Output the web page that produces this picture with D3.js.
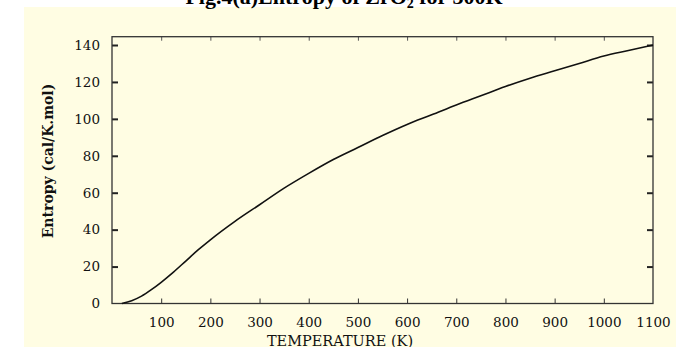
<!DOCTYPE html>
<html>
<head>
<meta charset="utf-8">
<script src="https://cdn.jsdelivr.net/npm/d3@7"></script>
<style>
  body { margin: 0; background: #fff; }
  svg { display: block; }
</style>
</head>
<body>
<div id="chart"></div>
<script>
// entropy (cal/K.mol) vs temperature (K)
const temps = [20, 40, 60, 80, 100, 125, 150, 175, 200, 250, 300, 350, 400, 450, 500,
  550, 600, 650, 700, 750, 800, 850, 900, 950, 1000, 1050, 1100];
const entropy = [0, 1.5, 4, 7.5, 11.5, 17, 23, 29, 34.5, 44.5, 53.5, 62.5, 70.5, 78, 84.5,
  91, 97, 102.2, 107.5, 112.5, 117.5, 122, 126, 130, 134, 137, 140];
const xTicks = [100, 200, 300, 400, 500, 600, 700, 800, 900, 1000, 1100];
const yTicks = [0, 20, 40, 60, 80, 100, 120, 140];

const W = 690, H = 347;
const svg = d3.select("#chart").append("svg")
  .attr("width", W).attr("height", H);

// pale yellow sheet
svg.append("rect")
  .attr("x", 24).attr("y", 7)
  .attr("width", 652).attr("height", H - 7)
  .style("fill", "#fffde3");

// title, cut off at the top of the page
const title = svg.append("text")
  .attr("x", 344).attr("y", 3.5)
  .attr("text-anchor", "middle")
  .style("font-family", "'Liberation Serif', 'Times New Roman', serif")
  .style("font-weight", "bold")
  .style("font-size", "22px")
  .style("fill", "#000");
title.append("tspan").text("Fig.4(a)Entropy of ZrO");
title.append("tspan").attr("dy", 4).style("font-size", "14px").text("2");
title.append("tspan").attr("dy", -4).text(" for 300K");

const x = d3.scaleLinear().domain([0, 1100]).range([112, 653]);
const y = d3.scaleLinear().domain([0, 144.5]).range([303.5, 36.7]);

const tickFont = "'DejaVu Serif', serif";

// bottom axis, ticks inside
const gx = svg.append("g")
  .attr("transform", "translate(0," + y(0) + ")")
  .call(d3.axisBottom(x).tickValues(xTicks).tickFormat(d3.format("d"))
    .tickSizeInner(-5).tickSizeOuter(0).tickPadding(14));
gx.select(".domain").remove();
gx.selectAll("text").style("font-family", tickFont).style("font-size", "13.5px").style("fill", "#111");
gx.selectAll("line").style("stroke", "#333");
// the 1100 tick sits on the frame
gx.selectAll(".tick").filter(d => d === 1100).select("line").remove();

// top ticks
const gt = svg.append("g")
  .attr("transform", "translate(0," + y.range()[1] + ")")
  .call(d3.axisTop(x).tickValues(xTicks.slice(0, -1)).tickSizeInner(-4).tickSizeOuter(0).tickFormat(""));
gt.select(".domain").remove();
gt.selectAll("line").style("stroke", "#555");

// left axis
const gy = svg.append("g")
  .attr("transform", "translate(" + x(0) + ",0)")
  .call(d3.axisLeft(y).tickValues(yTicks).tickSizeInner(-6).tickSizeOuter(0).tickPadding(12));
gy.select(".domain").remove();
gy.selectAll("text").style("font-family", tickFont).style("font-size", "13.5px").style("fill", "#111");
gy.selectAll("line").style("stroke", "#222").style("stroke-width", 2);
gy.selectAll(".tick").filter(d => d === 0).select("line").remove();

// right ticks
const gr = svg.append("g")
  .attr("transform", "translate(" + x(1100) + ",0)")
  .call(d3.axisRight(y).tickValues(yTicks.slice(1)).tickSizeInner(-6).tickSizeOuter(0).tickFormat(""));
gr.select(".domain").remove();
gr.selectAll("line").style("stroke", "#222").style("stroke-width", 2);

// frame
svg.append("rect")
  .attr("x", x(0)).attr("y", y.range()[1])
  .attr("width", x(1100) - x(0)).attr("height", y(0) - y.range()[1])
  .style("fill", "none").style("stroke", "#333").style("stroke-width", 1.3);

// curve
const line = d3.line()
  .x((d, i) => x(temps[i]))
  .y(d => y(d))
  .curve(d3.curveMonotoneX);
svg.append("path")
  .datum(entropy)
  .attr("d", line)
  .style("fill", "none")
  .style("stroke", "#111")
  .style("stroke-width", 1.6);

// axis titles
svg.append("text")
  .attr("x", 340).attr("y", 346)
  .attr("text-anchor", "middle")
  .style("font-family", tickFont)
  .style("font-size", "14.5px")
  .style("fill", "#111")
  .text("TEMPERATURE (K)");

svg.append("text")
  .attr("transform", "translate(53,161) rotate(-90)")
  .attr("text-anchor", "middle")
  .style("font-family", tickFont)
  .style("font-size", "14px")
  .style("font-weight", "bold")
  .style("fill", "#111")
  .text("Entropy (cal/K.mol)");
</script>
</body>
</html>
